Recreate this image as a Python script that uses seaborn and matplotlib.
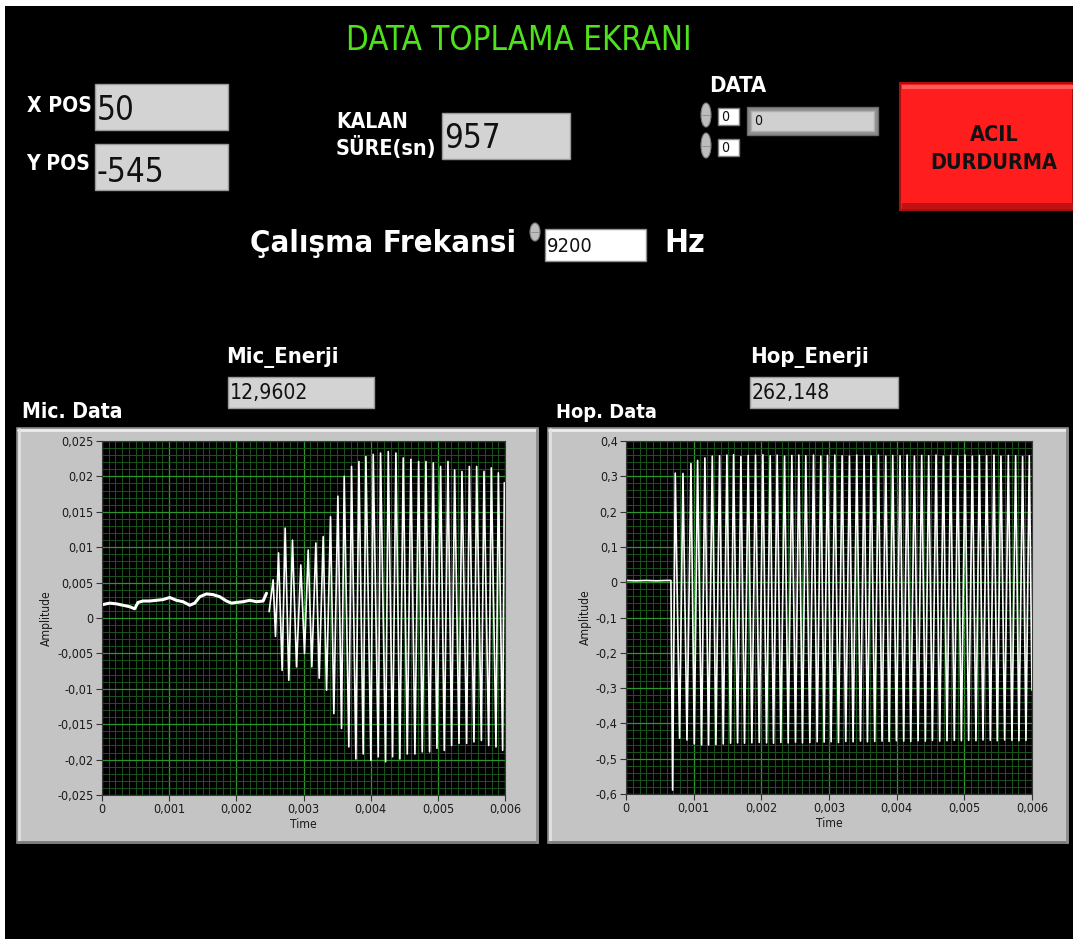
import numpy as np
import matplotlib
matplotlib.use("Agg")
import matplotlib.pyplot as plt
import seaborn as sns
from matplotlib import font_manager as fm
from matplotlib.patches import Rectangle, Ellipse
from matplotlib.ticker import MultipleLocator, FuncFormatter

W, H = 1073, 939

# degerler (front panel)
x_pos = "50"
y_pos = "-545"
kalan_sure = "957"
frekans = "9200"
data_idx = ["0", "0"]
data_val = "0"
mic_enerji = "12,9602"
hop_enerji = "262,148"

# Mic. Data - durgun kisim (ms, genlik)
mic_base_t = [0.015, 0.114, 0.214, 0.313, 0.412, 0.487, 0.536, 0.611, 0.710, 0.810,
              0.909, 1.008, 1.108, 1.207, 1.306, 1.381, 1.455, 1.555, 1.654, 1.753,
              1.853, 1.927, 2.002, 2.101, 2.200, 2.300, 2.399, 2.449]
mic_base_v = [0.0019, 0.0021, 0.0020, 0.0018, 0.0016, 0.0013, 0.0022, 0.0024, 0.0024, 0.0025,
              0.0026, 0.0029, 0.0025, 0.0023, 0.0018, 0.0021, 0.0030, 0.0034, 0.0033, 0.0030,
              0.0024, 0.0021, 0.0022, 0.0023, 0.0025, 0.0023, 0.0024, 0.0035]
# Mic. Data - salinim tepeleri
mic_top_t = [2.548, 2.628, 2.727, 2.836, 2.960, 3.070, 3.184, 3.293, 3.402, 3.512,
             3.606, 3.715, 3.825, 3.929, 4.038, 4.147, 4.262, 4.376, 4.485, 4.599,
             4.714, 4.823, 4.932, 5.041, 5.151, 5.250, 5.359, 5.469, 5.578, 5.687,
             5.796, 5.901, 5.990]
mic_top_v = [0.0054, 0.0092, 0.0127, 0.0110, 0.0075, 0.0096, 0.0106, 0.0115, 0.0143, 0.0172,
             0.0200, 0.0214, 0.0221, 0.0228, 0.0231, 0.0233, 0.0235, 0.0233, 0.0226, 0.0224,
             0.0221, 0.0221, 0.0219, 0.0214, 0.0221, 0.0209, 0.0207, 0.0214, 0.0214, 0.0207,
             0.0212, 0.0205, 0.0191]
mic_bot_t = [2.488, 2.583, 2.682, 2.781, 2.896, 3.015, 3.124, 3.234, 3.343, 3.452, 3.566,
             3.675, 3.780, 3.889, 4.003, 4.113, 4.222, 4.326, 4.435, 4.545, 4.659,
             4.768, 4.877, 4.987, 5.096, 5.205, 5.315, 5.429, 5.538, 5.648, 5.757,
             5.866, 5.965]
mic_bot_v = [0.0009, -0.0026, -0.0074, -0.0088, -0.0069, -0.0050, -0.0069, -0.0085, -0.0102, -0.0135,
             -0.0156, -0.0182, -0.0199, -0.0192, -0.0201, -0.0196, -0.0203, -0.0196, -0.0199, -0.0192,
             -0.0192, -0.0189, -0.0189, -0.0184, -0.0187, -0.0180, -0.0177, -0.0177, -0.0175, -0.0173,
             -0.0180, -0.0182, -0.0187]

# Hop. Data - durgun kisim ve ilk darbe
hop_base_t = [0.000, 0.150, 0.300, 0.450, 0.600, 0.664, 0.689]
hop_base_v = [0.005, 0.004, 0.005, 0.004, 0.005, 0.005, -0.589]
hop_top_t = [0.728, 0.842, 0.960, 1.058, 1.166, 1.275, 1.383, 1.491, 1.590, 1.698,
             1.806, 1.914, 2.023, 2.131, 2.234, 2.343, 2.451, 2.554, 2.657, 2.771,
             2.879, 2.977, 3.086, 3.194, 3.302, 3.410, 3.519, 3.622, 3.730, 3.839,
             3.942, 4.050, 4.154, 4.262, 4.370, 4.473, 4.582, 4.690, 4.798, 4.902,
             5.010, 5.118, 5.222, 5.330, 5.438, 5.541, 5.650, 5.758, 5.861, 5.960]
hop_top_v = [0.309, 0.308, 0.336, 0.345, 0.352, 0.357, 0.358, 0.360, 0.361, 0.356,
             0.359, 0.360, 0.361, 0.358, 0.360, 0.357, 0.359, 0.360, 0.358, 0.360,
             0.357, 0.359, 0.360, 0.358, 0.357, 0.360, 0.359, 0.358, 0.360, 0.357,
             0.359, 0.358, 0.360, 0.357, 0.359, 0.358, 0.360, 0.357, 0.359, 0.358,
             0.360, 0.357, 0.359, 0.358, 0.360, 0.357, 0.359, 0.358, 0.356, 0.358]
hop_bot_t = [0.792, 0.901, 1.009, 1.117, 1.220, 1.329, 1.437, 1.545, 1.649, 1.752,
             1.860, 1.969, 2.077, 2.180, 2.288, 2.397, 2.505, 2.608, 2.717, 2.825,
             2.928, 3.031, 3.140, 3.248, 3.356, 3.465, 3.568, 3.676, 3.784, 3.888,
             3.996, 4.104, 4.208, 4.316, 4.424, 4.528, 4.636, 4.744, 4.852, 4.956,
             5.064, 5.172, 5.276, 5.384, 5.487, 5.596, 5.704, 5.807, 5.911, 6.000]
hop_bot_v = [-0.442, -0.447, -0.458, -0.461, -0.461, -0.460, -0.458, -0.456, -0.455, -0.456,
             -0.455, -0.454, -0.455, -0.456, -0.454, -0.455, -0.453, -0.455, -0.454, -0.452,
             -0.453, -0.452, -0.454, -0.451, -0.452, -0.450, -0.452, -0.451, -0.450, -0.451,
             -0.449, -0.450, -0.451, -0.449, -0.450, -0.448, -0.450, -0.449, -0.448, -0.449,
             -0.448, -0.449, -0.447, -0.448, -0.449, -0.447, -0.448, -0.449, -0.448, -0.306]

mic_yticks = [-0.025, -0.02, -0.015, -0.01, -0.005, 0, 0.005, 0.01, 0.015, 0.02, 0.025]
hop_yticks = [-0.6, -0.5, -0.4, -0.3, -0.2, -0.1, 0, 0.1, 0.2, 0.3, 0.4]
time_ticks = [0, 0.001, 0.002, 0.003, 0.004, 0.005, 0.006]

sns.set_theme(style="dark")
plt.rcParams["font.family"] = ["DejaVu Sans"]

PT = 72 / 100  # piksel -> punto


def wt(f):
    try:
        return int(f.weight)
    except (TypeError, ValueError):
        return 700 if "bold" in str(f.weight) else 400


# dar (condensed) bir yazi tipi ara, LabVIEW paneline daha yakin
def narrow_font(bold):
    order = ["Liberation Sans Narrow", "DejaVu Sans Condensed", "Noto Sans", "DejaVu Sans",
             "Open Sans", "Roboto", "Lato", "Inter"]
    stretches = ["condensed", "semi-condensed"]
    for name in order:
        for st in stretches + ["normal"]:
            for f in fm.fontManager.ttflist:
                if f.name != name or f.style != "normal":
                    continue
                narrow = f.stretch in stretches or "Narrow" in name or "Condensed" in name
                if st == "normal" and not narrow:
                    continue
                if st != "normal" and f.stretch != st:
                    continue
                if (wt(f) >= 600) == bold and wt(f) in (400, 700):
                    return f.fname
    return None


REG = narrow_font(False)
BOLD = narrow_font(True)
SQ = 1.0 if (REG and BOLD) else 0.84  # dar yazi yoksa biraz kucult


def fp(size, bold):
    path = BOLD if bold else REG
    if path:
        return fm.FontProperties(fname=path, size=size * PT)
    return fm.FontProperties(family="DejaVu Sans", weight="bold" if bold else "normal",
                             size=size * PT * SQ)


def frac(x0, y0, x1, y1):
    return [x0 / W, 1 - y1 / H, (x1 - x0) / W, (y1 - y0) / H]


fig = plt.figure(figsize=(W / 100, H / 100), dpi=100, facecolor="black")
bg = fig.add_axes([0, 0, 1, 1])
bg.set_xlim(0, W)
bg.set_ylim(H, 0)
bg.axis("off")

# ekran kenari
bg.add_patch(Rectangle((0, 0), W, 6, fc="white", ec="none"))
bg.add_patch(Rectangle((0, 0), 5, H, fc="white", ec="none"))


def box(x0, y0, x1, y1, fc="#d3d3d3", ec="#9a9a9a", lw=1):
    bg.add_patch(Rectangle((x0, y0), x1 - x0, y1 - y0, fc=fc, ec=ec, lw=lw))


def label(x, y, s, size, color="white", bold=True, ha="left"):
    bg.text(x, y, s, fontproperties=fp(size, bold), color=color, ha=ha, va="center")


def spin(x, y0, y1):
    bg.add_patch(Ellipse((x, (y0 + y1) / 2), 10, y1 - y0, fc="#bdbdbd", ec="#7a7a7a", lw=0.8))
    bg.plot([x - 4, x + 4], [(y0 + y1) / 2] * 2, color="#8a8a8a", lw=0.6)


# baslik
bg.text(519, 41, "DATA TOPLAMA EKRANI", fontproperties=fp(33, False), color="#4ee21c",
        ha="center", va="center")

# X / Y POS
label(92, 106, "X POS", 21, ha="right")
box(95, 84, 228, 130)
label(97, 111, x_pos, 33, color="#111111", bold=False)
label(90, 164, "Y POS", 21, ha="right")
box(95, 144, 228, 190)
label(96, 172, y_pos, 33, color="#111111", bold=False)

# kalan sure
label(336, 122, "KALAN", 21)
label(336, 147, "SÜRE(sn)", 21.5)
box(442, 113, 570, 159)
label(444, 138, kalan_sure, 33, color="#111111", bold=False)

# DATA
label(738, 86, "DATA", 22, ha="center")
spin(706, 103, 127)
spin(706, 133, 158)
box(718, 108, 739, 125, fc="white", ec="#808080")
box(718, 139, 739, 156, fc="white", ec="#808080")
label(721, 117, data_idx[0], 14, color="#111111", bold=False)
label(721, 148, data_idx[1], 14, color="#111111", bold=False)
box(747, 107, 878, 135, fc="#8e8e8e", ec="#6a6a6a")
box(751, 111, 874, 131, fc="#d0d0d0", ec="#b0b0b0")
label(754, 121, data_val, 14, color="#111111", bold=False)

# acil durdurma
bg.add_patch(Rectangle((900, 83), 173, 127, fc="#ff1d1d", ec="#a81010", lw=1.5))
bg.add_patch(Rectangle((902, 85), 171, 4, fc="#ff5a5a", ec="none"))
bg.add_patch(Rectangle((902, 203), 171, 6, fc="#c01212", ec="none"))
label(994, 135, "ACIL", 21.5, color="#111111", ha="center")
label(994, 163, "DURDURMA", 21.5, color="#111111", ha="center")

# calisma frekansi
label(250, 244, "Çalışma Frekansi", 31)
spin(535, 223, 241)
box(545, 229, 646, 261, fc="white", ec="#909090")
label(547, 246, frekans, 20, color="#111111", bold=False)
label(664, 244, "Hz", 32)

# enerji
label(226, 357, "Mic_Enerji", 22)
box(228, 377, 374, 408)
label(230, 393, mic_enerji, 21, color="#111111", bold=False)
label(750, 357, "Hop_Enerji", 22)
box(750, 377, 898, 408)
label(752, 393, hop_enerji, 21, color="#111111", bold=False)

label(22, 412, "Mic. Data", 21)
label(556, 412, "Hop. Data", 20)


def comma(v, pos):
    s = f"{round(v, 4):g}"
    return s.replace(".", ",")


def chart(panel, area, parts, yticks, yminor):
    x0, y0, x1, y1 = panel
    bg.add_patch(Rectangle((x0, y0), x1 - x0, y1 - y0, fc="#c4c4c4", ec="#8a8a8a", lw=1.2))
    bg.plot([x0 + 1, x1 - 1], [y0 + 1.5, y0 + 1.5], color="#ececec", lw=2)
    bg.plot([x0 + 1.5, x0 + 1.5], [y0 + 1, y1 - 1], color="#e2e2e2", lw=2)
    bg.plot([x0 + 1, x1 - 1], [y1 - 1.5, y1 - 1.5], color="#7c7c7c", lw=2)
    bg.plot([x1 - 1.5, x1 - 1.5], [y0 + 1, y1 - 1], color="#8c8c8c", lw=2)

    ax = fig.add_axes(frac(*area))
    ax.set_facecolor("black")
    for t, v, lw in parts:
        sns.lineplot(x=np.array(t) / 1000, y=v, ax=ax, color="white", lw=lw,
                     estimator=None, sort=True)
    ax.set_xlim(0, 0.006)
    ax.set_ylim(yticks[0], yticks[-1])
    ax.set_xticks(time_ticks)
    ax.set_yticks(yticks)
    ax.xaxis.set_minor_locator(MultipleLocator(0.0001))
    ax.yaxis.set_minor_locator(MultipleLocator(yminor))
    ax.xaxis.set_major_formatter(FuncFormatter(comma))
    ax.yaxis.set_major_formatter(FuncFormatter(comma))
    ax.grid(which="minor", color="#1b531b", lw=0.7)
    ax.grid(which="major", color="#2c952c", lw=0.9)
    ax.set_axisbelow(True)
    ax.tick_params(which="major", direction="out", length=4, width=0.8, color="#333333",
                   labelcolor="#1a1a1a", bottom=True, left=True, pad=2)
    ax.tick_params(which="minor", length=0)
    for lab in ax.get_xticklabels() + ax.get_yticklabels():
        lab.set_fontproperties(fp(12.5, False))
    for s in ax.spines.values():
        s.set_color("#3a3a3a")
        s.set_linewidth(0.8)
    ax.set_xlabel("Time", fontproperties=fp(12, False), color="#1a1a1a", labelpad=1)
    ax.set_ylabel("Amplitude", fontproperties=fp(12, False), color="#1a1a1a", labelpad=3)
    return ax


mic_t = mic_top_t + mic_bot_t
mic_v = mic_top_v + mic_bot_v
chart((17, 428, 538, 843), (102, 441, 505, 795),
      [(mic_base_t, mic_base_v, 2.2), (mic_t, mic_v, 1.2)],
      mic_yticks, 0.001)

hop_t = hop_base_t + hop_top_t + hop_bot_t
hop_v = hop_base_v + hop_top_v + hop_bot_v
chart((548, 428, 1068, 843), (626, 441, 1032, 794),
      [(hop_t, hop_v, 1.2)],
      hop_yticks, 0.02)

fig.savefig("out.png", dpi=100, facecolor="black")
